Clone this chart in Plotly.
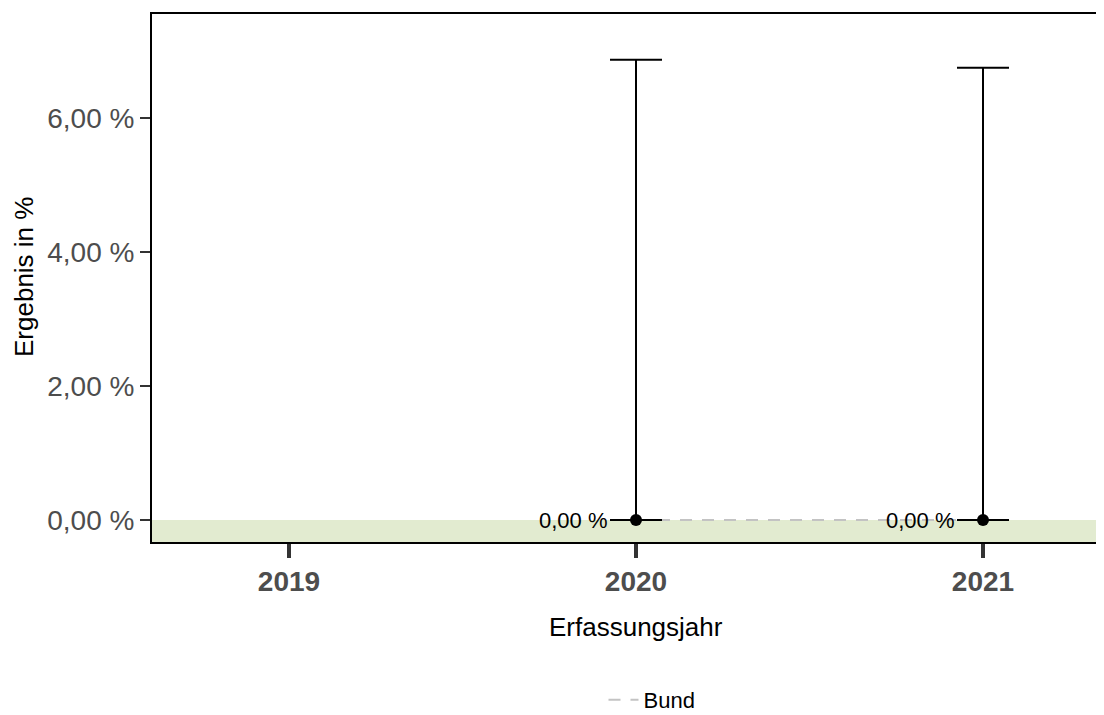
import plotly.graph_objects as go

years = [2019, 2020, 2021]
result_years = [2020, 2021]
result_values = [0.0, 0.0]
upper_ci = [6.87, 6.75]
lower_ci = [0.0, 0.0]
bund_years = [2020, 2021]
bund_values = [0.0, 0.0]
y_ticks = [0, 2, 4, 6]
y_tick_labels = ["0,00 %", "2,00 %", "4,00 %", "6,00 %"]
point_labels = ["0,00 %", "0,00 %"]

FONT = "Liberation Sans, Arial, Helvetica, sans-serif"

# page body has an 8px margin; compensate
OFF = 8
W, H = 1104 - OFF, 715 - OFF
L, T, B = 152 - OFF, 14 - OFF, 715 - 542
PW, PH = W - L, H - T - B

fig = go.Figure()

fig.add_shape(type="rect", xref="paper", yref="y", x0=0, x1=1, y0=-1, y1=0,
              fillcolor="rgb(226,235,208)", line_width=0, layer="below")

fig.add_trace(go.Scatter(
    x=bund_years, y=bund_values, mode="lines", name="Bund",
    line=dict(color="rgb(195,195,195)", width=2, dash="12px,10px"),
))

fig.add_trace(go.Scatter(
    x=result_years, y=result_values, mode="markers", showlegend=False,
    marker=dict(color="black", size=12),
    error_y=dict(type="data", symmetric=False,
                 array=[u - v for u, v in zip(upper_ci, result_values)],
                 arrayminus=[v - l for v, l in zip(result_values, lower_ci)],
                 color="black", thickness=2, width=26),
))

for x, y, t in zip(result_years, result_values, point_labels):
    fig.add_annotation(x=x, y=y, text=t, showarrow=False, xanchor="right",
                       xshift=-26, yshift=0, font=dict(size=22, color="black", family=FONT))

fig.add_annotation(xref="paper", yref="paper", x=(636 - 152) / PW, y=-(627 - 542) / PH,
                   text="Erfassungsjahr", showarrow=False, yanchor="middle",
                   font=dict(size=26, color="black", family=FONT))
fig.add_annotation(xref="paper", yref="paper", x=-(152 - 24) / PW, y=(542 - 277) / PH,
                   text="Ergebnis in %", showarrow=False, textangle=-90, xanchor="center",
                   yanchor="middle", font=dict(size=26, color="black", family=FONT))

fig.update_layout(
    width=W, height=H,
    margin=dict(l=L, r=0, t=T, b=B),
    plot_bgcolor="white", paper_bgcolor="white",
    font=dict(family=FONT),
    showlegend=True,
    legend=dict(orientation="h", xref="container", yref="container",
                x=(652 - OFF) / W, xanchor="center", y=(715 - 700) / H,
                yanchor="middle", font=dict(size=22, color="black", family=FONT),
                bgcolor="rgba(0,0,0,0)"),
    xaxis=dict(range=[2019 - 137 / 347, 2019 + (1104 - 289) / 347],
               tickvals=years, ticktext=[str(y) for y in years],
               showgrid=False, zeroline=False, showline=True, linecolor="black", linewidth=2,
               mirror=True, ticks="outside", ticklen=14, tickwidth=4, tickcolor="rgb(51,51,51)",
               ticklabelstandoff=-1,
               tickfont=dict(size=28, color="rgb(77,77,77)", family=FONT, weight="bold")),
    yaxis=dict(range=[-22 / 67, 506 / 67],
               tickvals=y_ticks, ticktext=y_tick_labels,
               showgrid=False, zeroline=False, showline=True, linecolor="black", linewidth=2,
               ticks="outside", ticklen=10, tickwidth=2, tickcolor="rgb(51,51,51)",
               ticklabelstandoff=0,
               tickfont=dict(size=28, color="rgb(77,77,77)", family=FONT)),
)

fig.write_html("out.html")
